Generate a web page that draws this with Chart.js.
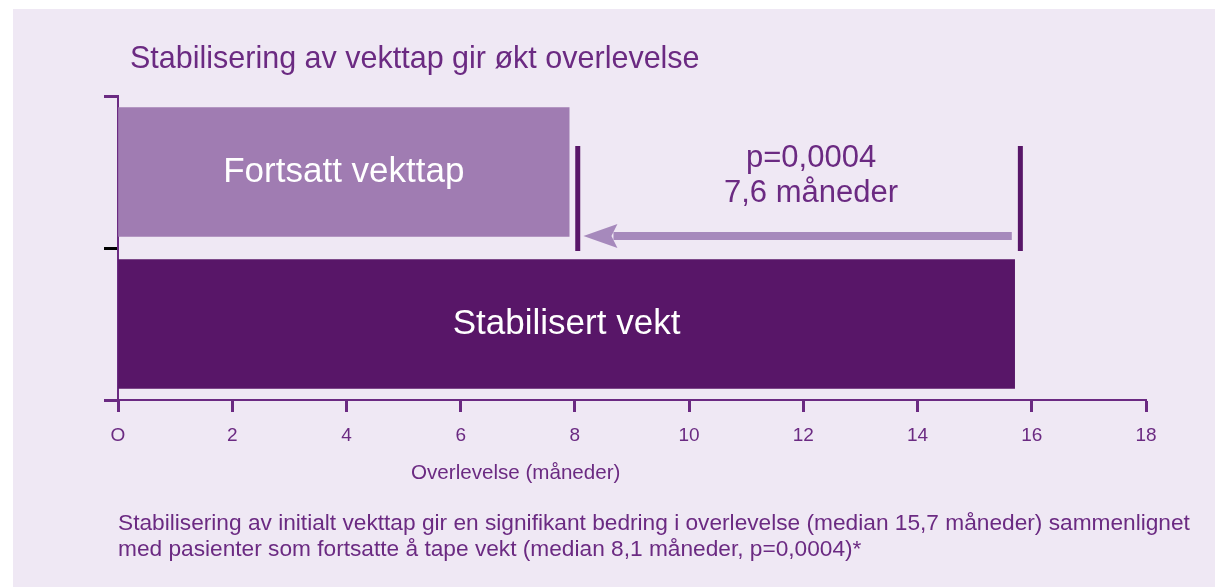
<!DOCTYPE html>
<html>
<head>
  <title>Stabilisering av vekttap</title>
  <script src="https://cdn.jsdelivr.net/npm/chart.js"></script>
  <style>
    body {
      margin: 0;
      background: #fff;
      font-family: "Liberation Sans", Arial, sans-serif;
    }
    #panel {
      position: absolute;
      left: 13px;
      top: 9px;
      width: 1202px;
      height: 578px;
      background: #efe8f4;
    }
    #chart {
      position: absolute;
      left: 0;
      top: 0;
    }
    .txt {
      position: absolute;
      color: #6b2a82;
      white-space: nowrap;
    }
    #title { left: 130px; top: 40px; font-size: 30.5px; }
    #xtitle { left: 411px; top: 460px; font-size: 20.6px; }
    #note { left: 118px; top: 509px; font-size: 22.7px; line-height: 26px; }
  </style>
</head>
<body>
  <div id="panel"></div>
  <canvas id="chart" width="1215" height="587"></canvas>
  <div class="txt" id="title">Stabilisering av vekttap gir økt overlevelse</div>
  <div class="txt" id="xtitle">Overlevelse (måneder)</div>
  <div class="txt" id="note">Stabilisering av initialt vekttap gir en signifikant bedring i overlevelse (median 15,7 måneder) sammenlignet<br>med pasienter som fortsatte å tape vekt (median 8,1 måneder, p=0,0004)*</div>

  <script>
    const categories = ['Fortsatt vekttap', 'Stabilisert vekt'];
    const survivalMonths = [7.9, 15.7];
    const tickLabels = ['O', '2', '4', '6', '8', '10', '12', '14', '16', '18'];
    const markerMonths = [8.05, 15.8];
    const arrowMonths = [15.65, 8.15];
    const annotationText = ['p=0,0004', '7,6 måneder'];

    const purple = '#6b2a82';
    const dark = '#581668';

    // white labels in bars + the difference arrow
    const overlay = {
      id: 'overlay',
      afterDatasetsDraw(chart) {
        const ctx = chart.ctx;
        const x = chart.scales.x;
        const y = chart.scales.y;
        const meta = chart.getDatasetMeta(0);

        ctx.save();
        ctx.fillStyle = '#fff';
        ctx.font = '35px "Liberation Sans", Arial, sans-serif';
        ctx.textAlign = 'center';
        ctx.textBaseline = 'middle';
        meta.data.forEach((bar, i) => {
          const p = bar.getCenterPoint();
          ctx.fillText(categories[i], p.x, p.y);
        });

        const yTop = y.getPixelForValue(0);
        // vertical markers
        ctx.strokeStyle = dark;
        ctx.lineWidth = 5;
        markerMonths.forEach(m => {
          const px = x.getPixelForValue(m);
          ctx.beginPath();
          ctx.moveTo(px, yTop - 26);
          ctx.lineTo(px, yTop + 79);
          ctx.stroke();
        });

        // arrow
        const ay = yTop + 64;
        const x1 = x.getPixelForValue(arrowMonths[0]);
        const x2 = x.getPixelForValue(arrowMonths[1]);
        ctx.strokeStyle = '#a689bc';
        ctx.fillStyle = '#a689bc';
        ctx.lineWidth = 8;
        ctx.beginPath();
        ctx.moveTo(x1, ay);
        ctx.lineTo(x2 + 30, ay);
        ctx.stroke();
        ctx.beginPath();
        ctx.moveTo(x2, ay);
        ctx.lineTo(x2 + 34, ay - 12);
        ctx.lineTo(x2 + 28, ay);
        ctx.lineTo(x2 + 34, ay + 12);
        ctx.closePath();
        ctx.fill();

        // annotation text
        const cx = (x.getPixelForValue(markerMonths[0]) + x.getPixelForValue(markerMonths[1])) / 2 + 12;
        ctx.fillStyle = purple;
        ctx.font = '31px "Liberation Sans", Arial, sans-serif';
        ctx.fillText(annotationText[0], cx, yTop - 14);
        ctx.fillText(annotationText[1], cx, yTop + 21);
        ctx.restore();
      }
    };

    new Chart(document.getElementById('chart'), {
      type: 'bar',
      data: {
        labels: categories,
        datasets: [{
          data: survivalMonths,
          backgroundColor: ['#a07cb2', dark],
          barThickness: 129
        }]
      },
      options: {
        indexAxis: 'y',
        responsive: false,
        animation: false,
        layout: { padding: { left: 104, right: 69, top: 96, bottom: 137 } },
        plugins: {
          legend: { display: false },
          tooltip: { enabled: false }
        },
        scales: {
          x: {
            min: 0,
            max: 18,
            afterFit: s => { s.height = 50; },
            border: { color: purple, width: 2 },
            grid: {
              drawOnChartArea: false,
              tickLength: 12,
              tickWidth: 3,
              tickColor: purple
            },
            ticks: {
              stepSize: 2,
              padding: 12,
              color: purple,
              font: { size: 19, family: '"Liberation Sans", Arial, sans-serif' },
              callback: (v, i) => tickLabels[i]
            }
          },
          y: {
            z: 1,
            afterFit: s => { s.width = 14; },
            border: { color: purple, width: 2 },
            grid: {
              offset: true,
              drawOnChartArea: false,
              tickLength: 14,
              tickWidth: 3,
              tickColor: ctx => ctx.index === 1 ? '#000' : purple
            },
            ticks: { display: false }
          }
        }
      },
      plugins: [overlay]
    });
  </script>
</body>
</html>
